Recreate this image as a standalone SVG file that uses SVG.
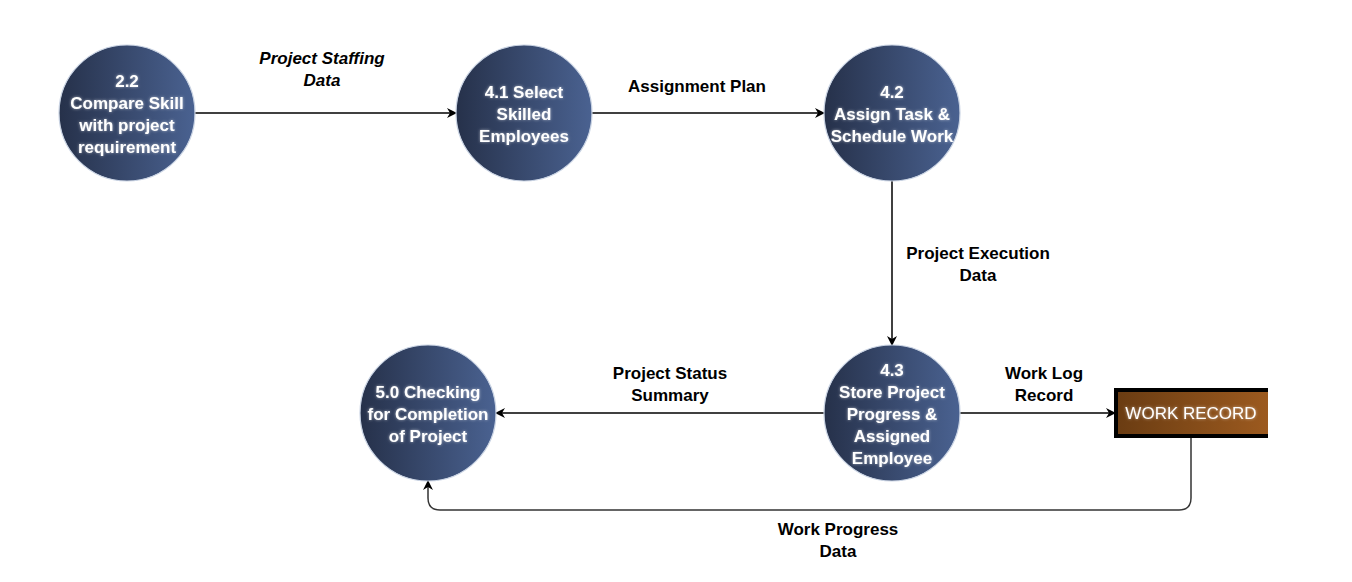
<svg xmlns="http://www.w3.org/2000/svg" width="1352" height="582" viewBox="0 0 1352 582">
<defs>
<linearGradient id="gc" x1="0" y1="0" x2="1" y2="0">
<stop offset="0" stop-color="#26314a"/>
<stop offset="1" stop-color="#4a6291"/>
</linearGradient>
<linearGradient id="gb" x1="0" y1="0" x2="1" y2="0">
<stop offset="0" stop-color="#6a3c12"/>
<stop offset="1" stop-color="#9c5a1f"/>
</linearGradient>
<filter id="glow" x="-20%" y="-50%" width="140%" height="200%">
<feGaussianBlur in="SourceAlpha" stdDeviation="1.6" result="b"/>
<feFlood flood-color="#ffffff" flood-opacity="0.55"/>
<feComposite in2="b" operator="in" result="g"/>
<feMerge><feMergeNode in="g"/><feMergeNode in="SourceGraphic"/></feMerge>
</filter>
<marker id="arr" viewBox="0 0 10 10" refX="9" refY="5" markerWidth="10" markerHeight="10" markerUnits="userSpaceOnUse" orient="auto">
<path d="M0,0 L10,5 L0,10 L3,5 Z" fill="#000"/>
</marker>
</defs>
<style>
.proc{fill:url(#gc);stroke:#c9d3e3;stroke-width:1.2}
.pt{font-family:"Liberation Sans",Arial,sans-serif;font-weight:bold;font-size:17px;fill:#fff;text-anchor:middle;filter:url(#glow)}
.st{font-family:"Liberation Sans",Arial,sans-serif;font-weight:normal;font-size:17px;fill:#fff;text-anchor:middle;filter:url(#glow)}
.lbl{font-family:"Liberation Sans",Arial,sans-serif;font-weight:bold;font-size:17px;fill:#000;text-anchor:middle}
.edge{fill:none;stroke:#000;stroke-width:1.5;marker-end:url(#arr)}
</style>
<rect width="1352" height="582" fill="#fff"/>
<g id="connectors">
<path class="edge" d="M195,113 L456,113"/>
<path class="edge" d="M592,113 L824,113"/>
<path class="edge" d="M892,181 L892,345"/>
<path class="edge" d="M824,413 L496,413"/>
<path class="edge" d="M960,413 L1115,413"/>
<path class="edge" style="stroke:#333" d="M1191,437 L1191,498 Q1191,510 1179,510 L440,510 Q428,510 428,498 L428,481"/>
<text class="lbl" font-style="italic"><tspan x="322" y="64">Project Staffing</tspan><tspan x="322" y="86">Data</tspan></text>
<text class="lbl" x="697" y="92">Assignment Plan</text>
<text class="lbl"><tspan x="978" y="259">Project Execution</tspan><tspan x="978" y="281">Data</tspan></text>
<text class="lbl"><tspan x="670" y="379">Project Status</tspan><tspan x="670" y="401">Summary</tspan></text>
<text class="lbl"><tspan x="1044" y="379">Work Log</tspan><tspan x="1044" y="401">Record</tspan></text>
<text class="lbl"><tspan x="838" y="535">Work Progress</tspan><tspan x="838" y="557">Data</tspan></text>
</g>
<g id="n22">
<circle class="proc" cx="127" cy="113" r="68"/>
<text class="pt"><tspan x="127" y="87">2.2</tspan><tspan x="127" y="109">Compare Skill</tspan><tspan x="127" y="131">with project</tspan><tspan x="127" y="153">requirement</tspan></text>
</g>
<g id="n41">
<circle class="proc" cx="524" cy="113" r="68"/>
<text class="pt"><tspan x="524" y="98">4.1 Select</tspan><tspan x="524" y="120">Skilled</tspan><tspan x="524" y="142">Employees</tspan></text>
</g>
<g id="n42">
<circle class="proc" cx="892" cy="113" r="68"/>
<text class="pt"><tspan x="892" y="98">4.2</tspan><tspan x="892" y="120">Assign Task &amp;</tspan><tspan x="892" y="142">Schedule Work</tspan></text>
</g>
<g id="n43">
<circle class="proc" cx="892" cy="413" r="68"/>
<text class="pt"><tspan x="892" y="376">4.3</tspan><tspan x="892" y="398">Store Project</tspan><tspan x="892" y="420">Progress &amp;</tspan><tspan x="892" y="442">Assigned</tspan><tspan x="892" y="464">Employee</tspan></text>
</g>
<g id="n50">
<circle class="proc" cx="428" cy="413" r="68"/>
<text class="pt"><tspan x="428" y="398">5.0 Checking</tspan><tspan x="428" y="420">for Completion</tspan><tspan x="428" y="442">of Project</tspan></text>
</g>
<g id="workrecord">
<rect x="1116" y="390" width="152" height="46" fill="url(#gb)"/>
<path d="M1268,390 L1116,390 L1116,436 L1268,436" fill="none" stroke="#000" stroke-width="4"/>
<text class="st" x="1191" y="419">WORK RECORD</text>
</g>
</svg>
